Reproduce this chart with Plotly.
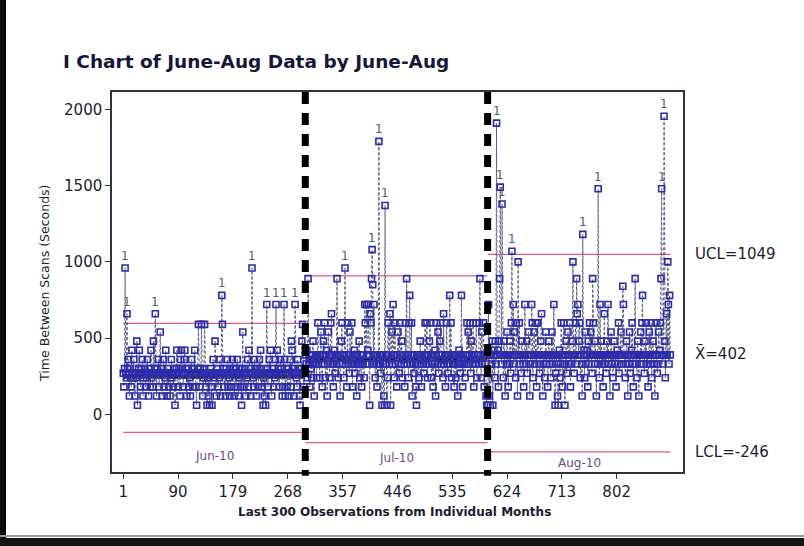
import plotly.graph_objects as go

# ---- data: time between scans (seconds), last observations of each month ----
stage_names = ["Jun-10", "Jul-10", "Aug-10"]

jun_seconds = [
    270, 180, 300, 960, 270, 240, 660, 300, 360, 270, 120, 300, 240, 180, 420, 270, 240, 360, 270, 120,
    270, 240, 480, 60, 270, 300, 420, 270, 180, 300, 270, 360, 120, 240, 270, 300, 180, 270, 240, 360,
    270, 120, 300, 270, 180, 420, 240, 270, 180, 480, 270, 300, 660, 270, 120, 300, 270, 360, 180, 270,
    540, 270, 300, 120, 270, 360, 180, 270, 240, 420, 270, 120, 300, 270, 180, 270, 120, 240, 360, 270,
    270, 180, 270, 300, 60, 270, 300, 420, 270, 180, 300, 270, 120, 360, 420, 270, 300, 180, 270, 360,
    420, 270, 300, 120, 270, 300, 180, 270, 240, 120, 270, 360, 300, 180, 270, 300, 420, 270, 180, 60,
    270, 300, 590, 270, 180, 300, 270, 590, 270, 120, 240, 300, 590, 270, 180, 270, 60, 240, 120, 270,
    60, 270, 300, 180, 60, 270, 360, 270, 240, 480, 270, 120, 300, 270, 180, 270, 240, 360, 120, 270,
    780, 590, 270, 300, 180, 270, 120, 300, 270, 360, 180, 270, 240, 120, 300, 270, 180, 360, 270, 300,
    120, 270, 300, 180, 270, 360, 270, 120, 240, 300, 180, 270, 60, 300, 540, 270, 180, 300, 270, 120,
    270, 240, 360, 180, 420, 270, 300, 120, 270, 960, 270, 240, 180, 360, 270, 300, 120, 270, 300, 180,
    270, 360, 300, 420, 270, 180, 270, 60, 240, 120, 270, 60, 270, 720, 300, 180, 270, 360, 270, 420,
    270, 120, 300, 270, 180, 270, 240, 360, 720, 270, 420, 270, 300, 180, 270, 360, 300, 270, 120, 180,
    270, 720, 360, 120, 270, 300, 180, 270, 300, 120, 270, 360, 180, 480, 420, 270, 300, 120, 270, 720,
    270, 240, 180, 360, 270, 300, 120, 60, 270, 300, 480, 590, 270, 180, 300, 270,
]

jul_seconds = [
    390, 330, 420, 240, 890, 330, 360, 180, 390, 300, 240, 390, 480, 330, 120, 360, 390, 330, 240, 390,
    600, 330, 390, 240, 390, 540, 330, 180, 390, 480, 330, 600, 240, 390, 420, 120, 330, 540, 390, 240,
    390, 600, 660, 330, 390, 180, 330, 420, 270, 390, 330, 890, 390, 240, 390, 330, 120, 390, 480, 600,
    330, 390, 240, 390, 960, 330, 360, 180, 600, 330, 390, 270, 540, 390, 330, 600, 180, 390, 330, 420,
    270, 390, 330, 120, 390, 360, 330, 480, 240, 390, 330, 180, 390, 330, 390, 240, 720, 600, 330, 720,
    390, 420, 720, 330, 60, 660, 600, 890, 1080, 850, 330, 720, 390, 240, 390, 330, 180, 390, 330, 1790,
    390, 330, 270, 390, 60, 390, 330, 120, 60, 1370, 330, 390, 60, 240, 600, 390, 330, 660, 60, 390,
    540, 330, 720, 390, 240, 600, 330, 390, 180, 390, 540, 330, 270, 600, 390, 330, 480, 240, 390, 360,
    330, 180, 600, 390, 890, 330, 390, 240, 600, 780, 330, 390, 600, 120, 330, 390, 270, 390, 330, 180,
    60, 390, 330, 390, 240, 390, 480, 330, 180, 390, 360, 330, 270, 390, 600, 330, 390, 600, 240, 390,
    330, 480, 600, 390, 240, 390, 330, 180, 390, 330, 420, 120, 390, 600, 330, 540, 270, 390, 480, 600,
    330, 390, 360, 240, 660, 330, 390, 180, 390, 600, 330, 270, 390, 330, 780, 390, 600, 240, 390, 330,
    390, 180, 330, 390, 240, 390, 330, 120, 390, 420, 330, 270, 390, 780, 330, 180, 390, 360, 330, 240,
    390, 330, 600, 390, 540, 330, 390, 600, 270, 480, 390, 330, 600, 180, 390, 360, 330, 600, 240, 390,
    390, 330, 600, 890, 390, 240, 540, 330, 390, 600, 180, 390, 330, 120, 60, 60,
]

aug_seconds = [
    60, 720, 120, 390, 60, 390, 330, 480, 60, 390, 420, 240, 480, 330, 1910, 390, 420, 180, 480, 890,
    1490, 390, 330, 1380, 390, 240, 480, 390, 120, 390, 330, 540, 390, 180, 390, 330, 480, 270, 600, 1070,
    390, 720, 330, 540, 390, 240, 600, 390, 120, 1000, 390, 600, 330, 390, 270, 480, 390, 330, 180, 390,
    720, 390, 330, 480, 270, 390, 540, 390, 120, 330, 390, 720, 600, 240, 390, 540, 330, 390, 600, 180,
    390, 600, 390, 330, 270, 390, 480, 660, 390, 120, 330, 390, 240, 390, 540, 330, 390, 180, 390, 480,
    330, 390, 240, 390, 540, 330, 390, 720, 390, 60, 270, 390, 330, 120, 60, 390, 420, 240, 330, 600,
    390, 180, 390, 600, 330, 60, 390, 480, 270, 390, 540, 330, 390, 600, 180, 390, 330, 480, 1000, 390,
    270, 390, 600, 330, 890, 660, 720, 390, 480, 600, 240, 390, 330, 120, 1180, 390, 420, 240, 540, 330,
    390, 420, 180, 480, 330, 600, 390, 540, 390, 270, 890, 600, 390, 330, 480, 390, 120, 390, 330, 1480,
    390, 240, 720, 390, 480, 330, 390, 180, 390, 660, 330, 390, 270, 480, 390, 720, 330, 390, 120, 390,
    540, 330, 390, 240, 390, 480, 330, 390, 180, 390, 420, 330, 600, 270, 390, 390, 540, 330, 390, 840,
    720, 390, 390, 240, 330, 480, 390, 120, 390, 330, 540, 270, 390, 420, 600, 330, 180, 390, 390, 890,
    330, 390, 240, 480, 390, 120, 390, 330, 540, 390, 600, 780, 330, 390, 270, 480, 390, 600, 330, 390,
    180, 390, 540, 390, 330, 600, 240, 390, 480, 390, 330, 120, 390, 600, 390, 270, 330, 540, 390, 420,
    600, 890, 1480, 330, 390, 390, 1955, 480, 240, 390, 660, 390, 1000, 720, 330, 780, 390,
]

# control limits per stage (Jun, Jul, Aug)
stage_ucl = [597, 908, 1049]
stage_center = [240, 361, 402]
stage_lcl = [-118, -186, -246]

x_ticks = [1, 90, 179, 268, 357, 446, 535, 624, 713, 802]
y_ticks = [0, 500, 1000, 1500, 2000]

# ---- styling ----
FONT = "DejaVu Sans"
POINT_COLOR = "#2c2cae"
CONNECT_COLOR = "#5c5c7c"
LIMIT_COLOR = "#e25a80"
CENTER_COLOR = "#12123a"
TEXT_DARK = "#1c1c30"
STAGE_TEXT = "#6e4c80"
FLAG_TEXT = "#5e5870"

X_RANGE = [-17.3, 909.7]
Y_RANGE = [-378, 2114]

stages = [jun_seconds, jul_seconds, aug_seconds]

fig = go.Figure()
annotations = []

start = 1
bounds = []
for values in stages:
    end = start + len(values) - 1
    bounds.append((start, end))
    start = end + 1

# control limit and center lines, drawn under the observations
for (s, e), ucl, cl, lcl in zip(bounds, stage_ucl, stage_center, stage_lcl):
    for level, color, width in ((ucl, LIMIT_COLOR, 1.2), (lcl, LIMIT_COLOR, 1.2), (cl, CENTER_COLOR, 2)):
        fig.add_trace(go.Scatter(
            x=[s, e], y=[level, level], mode="lines",
            line=dict(color=color, width=width), hoverinfo="skip", showlegend=False,
        ))

# observations of each stage
for (s, e), values, ucl, lcl in zip(bounds, stages, stage_ucl, stage_lcl):
    xs = list(range(s, e + 1))
    fig.add_trace(go.Scatter(
        x=xs, y=values, mode="lines+markers",
        line=dict(color=CONNECT_COLOR, width=1, dash="3px,2px"),
        marker=dict(symbol="square-open", size=6, color=POINT_COLOR, line=dict(width=1.6, color=POINT_COLOR)),
        showlegend=False,
    ))
    # test 1 flags: points beyond the control limits
    for xv, yv in zip(xs, values):
        if yv > ucl or yv < lcl:
            annotations.append(dict(
                x=xv, y=yv, text="1", showarrow=False, yshift=12,
                font=dict(family=FONT, size=12, color=FLAG_TEXT),
            ))

# stage labels below the lower limits
stage_label_shift = [-24, -15, -11]
for (s, e), name, lcl, dy in zip(bounds, stage_names, stage_lcl, stage_label_shift):
    annotations.append(dict(
        x=(s + e) / 2, y=lcl, text=name, showarrow=False, yshift=dy,
        font=dict(family=FONT, size=12, color=STAGE_TEXT),
    ))

# limit labels for the last stage
last_labels = [
    (stage_ucl[-1], f"UCL={stage_ucl[-1]}"),
    (stage_center[-1], f"X\u0304={stage_center[-1]}"),
    (stage_lcl[-1], f"LCL={stage_lcl[-1]}"),
]
for yv, txt in last_labels:
    annotations.append(dict(
        xref="paper", x=1.0175, y=yv, xanchor="left", yanchor="middle",
        text=txt, showarrow=False, font=dict(family=FONT, size=15, color=TEXT_DARK),
    ))

# axis titles
annotations.append(dict(
    xref="paper", yref="paper", x=-0.1173, y=0.495, text="Time Between Scans (Seconds)",
    textangle=-90, showarrow=False, xanchor="center", yanchor="middle",
    font=dict(family=FONT, size=12.5, color=TEXT_DARK),
))
annotations.append(dict(
    xref="paper", yref="paper", x=0.4956, y=-0.105, text="<b>Last 300 Observations from Individual Months</b>",
    showarrow=False, xanchor="center", yanchor="middle",
    font=dict(family=FONT, size=12, color=TEXT_DARK),
))

shapes = []
# stage dividers
for s, e in bounds[:-1]:
    shapes.append(dict(
        type="line", xref="x", yref="paper", x0=e + 0.5, x1=e + 0.5, y0=1, y1=-0.01,
        line=dict(color="#000000", width=7, dash="12px,9px"), layer="above",
    ))
# window border
shapes.append(dict(type="rect", xref="paper", yref="paper", x0=-0.1961, x1=-0.1856,
                   y0=-0.1947, y1=1.2421, fillcolor="#0a0a0a", line=dict(width=0), layer="above"))
shapes.append(dict(type="rect", xref="paper", yref="paper", x0=-0.1961, x1=1.2119,
                   y0=-0.1947, y1=-0.1737, fillcolor="#141414", line=dict(width=0), layer="above"))
shapes.append(dict(type="line", xref="paper", yref="paper", x0=-0.1961, x1=1.2119,
                   y0=-0.1684, y1=-0.1684, line=dict(color="#9a9aa6", width=2), layer="above"))

fig.update_layout(
    width=804, height=546,
    margin=dict(l=112, r=121, t=92, b=74),
    paper_bgcolor="white", plot_bgcolor="white",
    title=dict(
        text="<b>I Chart of June-Aug Data by June-Aug</b>",
        x=63 / 804, xanchor="left", xref="container",
        y=1 - 62 / 546, yanchor="middle", yref="container",
        font=dict(family=FONT, size=18.5, color="#16163a"),
    ),
    xaxis=dict(
        range=X_RANGE, tickvals=x_ticks, ticktext=[str(v) for v in x_ticks],
        showgrid=False, zeroline=False, ticks="outside", ticklen=5, tickcolor="#333344",
        showline=True, linecolor="#333344", linewidth=1.5, mirror=True,
        tickfont=dict(family=FONT, size=15, color=TEXT_DARK),
    ),
    yaxis=dict(
        range=Y_RANGE, tickvals=y_ticks,
        showgrid=False, zeroline=False, ticks="outside", ticklen=5, tickcolor="#333344",
        showline=True, linecolor="#333344", linewidth=1.5, mirror=True,
        tickfont=dict(family=FONT, size=15, color=TEXT_DARK),
    ),
    annotations=annotations,
    shapes=shapes,
)

fig.write_html("out.html")
